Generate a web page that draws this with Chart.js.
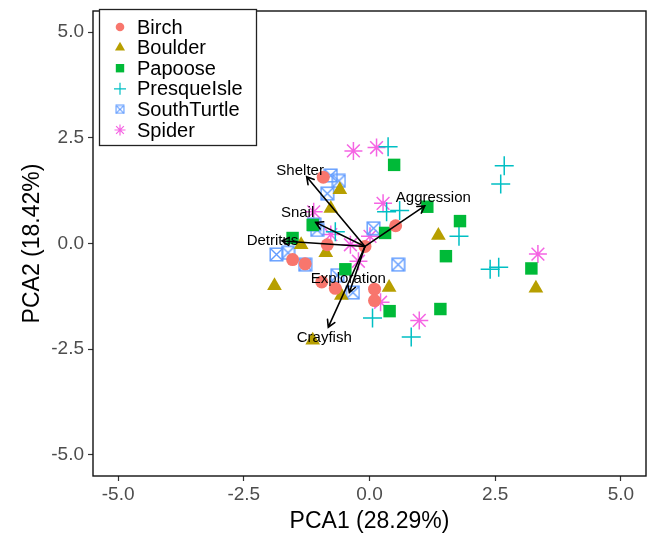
<!DOCTYPE html>
<html><head><meta charset="utf-8">
<script src="https://cdn.jsdelivr.net/npm/chart.js@4/dist/chart.umd.min.js"></script>
<style>html,body{margin:0;padding:0;background:#fff;}#wrap{width:657px;height:537px;}</style>
</head><body><div id="wrap"><canvas id="c" width="657" height="537"></canvas></div>
<script>
const FAMILY = '"Liberation Sans", Arial, Helvetica, sans-serif';

// ---- data ----
const categories = ['Birch','Boulder','Papoose','PresqueIsle','SouthTurtle','Spider'];
const birchX = [-0.92, 0.52, -0.84, -0.09, -1.53, -1.28, -0.95, -0.68, 0.10, 0.10];
const birchY = [1.57, 0.42, -0.03, -0.07, -0.38, -0.48, -0.91, -1.06, -1.08, -1.35];
const boulderX = [-0.59, -0.77, -1.36, -0.87, -1.89, -0.56, 0.39, 1.37, 3.31, -1.13];
const boulderY = [1.27, 0.83, -0.03, -0.22, -1.00, -1.23, -1.04, 0.19, -1.06, -2.29];
const papooseX = [0.49, -1.13, 0.31, -1.53, -0.48, 0.40, 1.15, 1.80, 1.52, 3.22, 1.41];
const papooseY = [1.86, 0.44, 0.25, 0.13, -0.61, -1.60, 0.87, 0.53, -0.30, -0.59, -1.55];
const presqueX = [0.37, 2.68, 2.61, 0.34, 0.60, -0.68, 1.78, 2.40, 2.57, 0.06, 0.83];
const presqueY = [2.29, 1.84, 1.41, 0.75, 0.78, 0.28, 0.17, -0.61, -0.56, -1.76, -2.21];
const southX = [-0.77, -0.61, -0.84, -1.10, -1.04, 0.08, -1.85, -1.62, -1.28, 0.57, -0.64, -0.33];
const southY = [1.61, 1.48, 1.18, 0.45, 0.32, 0.36, -0.26, -0.22, -0.50, -0.50, -0.75, -1.16];
const spiderX = [-0.32, 0.14, 0.27, -1.11, -0.77, -0.38, 0.01, -0.22, 0.22, 0.99, 3.35];
const spiderY = [2.19, 2.27, 0.95, 0.75, 0.21, -0.03, 0.17, -0.42, -1.39, -1.82, -0.25];

// loadings (arrows)
const loadingNames = ['Shelter','Snail','Detritus','Aggression','Exploration','Crayfish'];
const arrowOrigin = [-0.09, -0.07];
const loadingX = [-1.25, -1.07, -1.74, 1.10, -0.40, -0.82];
const loadingY = [1.58, 0.50, 0.06, 0.89, -1.16, -1.98];
const labelX = [-1.38, -1.43, -1.93, 1.27, -0.42, -0.90];
const labelY = [1.72, 0.73, 0.06, 1.09, -0.83, -2.23];

const xTicks = [-5, -2.5, 0, 2.5, 5];
const yTicks = [-5, -2.5, 0, 2.5, 5];

// ---- styles ----
const colors = ['#F8766D','#B79F00','#00BA38','#00BFC4','#619CFF','#F564E3'];

function boxX(size, color, lw) {
  const c = document.createElement('canvas');
  c.width = size; c.height = size;
  const g = c.getContext('2d');
  g.strokeStyle = color; g.lineWidth = lw;
  const o = lw / 2 + 0.5, e = size - lw / 2 - 0.5;
  g.strokeRect(o, o, e - o, e - o);
  g.beginPath(); g.moveTo(o, o); g.lineTo(e, e); g.moveTo(e, o); g.lineTo(o, e); g.stroke();
  return c;
}
const stImg = boxX(15, colors[4], 1.4);
const stImgSmall = boxX(10, colors[4], 1.1);

const xs = [birchX, boulderX, papooseX, presqueX, southX, spiderX];
const ys = [birchY, boulderY, papooseY, presqueY, southY, spiderY];
const styles = ['circle','triangle','rect','cross',stImg,'star'];
const radii = [6.5, 8.5, 8.8, 9.5, 7.5, 9];

const datasets = categories.map((name, i) => ({
  label: name,
  data: xs[i].map((x, j) => ({x: x, y: ys[i][j]})),
  pointStyle: styles[i],
  pointRadius: radii[i],
  pointHoverRadius: radii[i],
  backgroundColor: colors[i],
  borderColor: colors[i],
  borderWidth: (i === 3 || i === 5) ? 1.5 : 0,
  pointBorderWidth: (i === 3 || i === 5) ? 1.5 : 0
}));

// ---- plugins ----
const frame = {
  id: 'frame',
  afterDraw(chart) {
    const {ctx, chartArea: a} = chart;
    ctx.save();
    ctx.strokeStyle = '#111'; ctx.lineWidth = 1.4;
    ctx.strokeRect(a.left, a.top, a.right - a.left, a.bottom - a.top);
    ctx.restore();
  }
};

const arrows = {
  id: 'arrows',
  afterDatasetsDraw(chart) {
    const ctx = chart.ctx, sx = chart.scales.x, sy = chart.scales.y;
    const ox = sx.getPixelForValue(arrowOrigin[0]), oy = sy.getPixelForValue(arrowOrigin[1]);
    ctx.save();
    ctx.strokeStyle = '#000'; ctx.lineWidth = 1.6; ctx.lineCap = 'round';
    loadingNames.forEach((n, i) => {
      const ex = sx.getPixelForValue(loadingX[i]), ey = sy.getPixelForValue(loadingY[i]);
      const ang = Math.atan2(ey - oy, ex - ox);
      const L = 8, A = Math.PI / 6;
      ctx.beginPath();
      ctx.moveTo(ox, oy); ctx.lineTo(ex, ey);
      ctx.moveTo(ex - L * Math.cos(ang - A), ey - L * Math.sin(ang - A));
      ctx.lineTo(ex, ey);
      ctx.lineTo(ex - L * Math.cos(ang + A), ey - L * Math.sin(ang + A));
      ctx.stroke();
    });
    ctx.fillStyle = '#000';
    ctx.font = '15px ' + FAMILY;
    ctx.textAlign = 'center'; ctx.textBaseline = 'middle';
    loadingNames.forEach((n, i) => {
      ctx.fillText(n, sx.getPixelForValue(labelX[i]), sy.getPixelForValue(labelY[i]));
    });
    ctx.restore();
  }
};

function drawSym(ctx, i, x, y) {
  const c = colors[i];
  ctx.save();
  ctx.fillStyle = c; ctx.strokeStyle = c; ctx.lineWidth = 1.2;
  ctx.beginPath();
  if (i === 0) { ctx.arc(x, y, 4.3, 0, Math.PI * 2); ctx.fill(); }
  else if (i === 1) { const r = 5.8; ctx.moveTo(x, y - r); ctx.lineTo(x + r * 0.866, y + r / 2); ctx.lineTo(x - r * 0.866, y + r / 2); ctx.closePath(); ctx.fill(); }
  else if (i === 2) { ctx.rect(x - 4.2, y - 4.2, 8.4, 8.4); ctx.fill(); }
  else if (i === 3) { const r = 6; ctx.moveTo(x - r, y); ctx.lineTo(x + r, y); ctx.moveTo(x, y - r); ctx.lineTo(x, y + r); ctx.stroke(); }
  else if (i === 4) { ctx.drawImage(stImgSmall, x - 5, y - 5); }
  else { const r = 5.5, d = r * 0.7071; ctx.moveTo(x - r, y); ctx.lineTo(x + r, y); ctx.moveTo(x, y - r); ctx.lineTo(x, y + r);
         ctx.moveTo(x - d, y - d); ctx.lineTo(x + d, y + d); ctx.moveTo(x + d, y - d); ctx.lineTo(x - d, y + d); ctx.stroke(); }
  ctx.restore();
}

const legendBox = {
  id: 'legendBox',
  afterDraw(chart) {
    const ctx = chart.ctx;
    ctx.save();
    ctx.fillStyle = '#fff';
    ctx.fillRect(99.5, 9.5, 157, 136);
    ctx.strokeStyle = '#222'; ctx.lineWidth = 1.3;
    ctx.strokeRect(99.5, 9.5, 157, 136);
    ctx.font = '20px ' + FAMILY;
    ctx.textAlign = 'left'; ctx.textBaseline = 'middle';
    categories.forEach((n, i) => {
      const y = 27 + i * 20.6;
      drawSym(ctx, i, 120, y);
      ctx.fillStyle = '#000';
      ctx.fillText(n, 137, y + 1);
    });
    ctx.restore();
  }
};

function zeroPad(s) { s.paddingTop = 0; s.paddingBottom = 0; s.paddingLeft = 0; s.paddingRight = 0; }

new Chart(document.getElementById('c'), {
  type: 'scatter',
  data: { datasets },
  options: {
    responsive: false,
    animation: false,
    devicePixelRatio: 1,
    layout: { padding: { left: 0, right: 4, top: 5, bottom: 0 } },
    plugins: { legend: { display: false }, tooltip: { enabled: false } },
    scales: {
      x: {
        type: 'linear', min: -5.5, max: 5.5,
        afterBuildTicks: s => { s.ticks = xTicks.map(v => ({ value: v })); },
        afterFit: s => { s.height = 61; zeroPad(s); },
        ticks: { callback: v => Number(v).toFixed(1), color: '#4D4D4D', font: { size: 19, family: FAMILY }, padding: 2, maxRotation: 0, autoSkip: false },
        grid: { display: true, drawOnChartArea: false, tickLength: 5, tickColor: '#333', tickWidth: 1.2 },
        border: { display: false },
        title: { display: true, text: 'PCA1 (28.29%)', color: '#000', font: { size: 23, family: FAMILY }, padding: { top: 0, bottom: 2 } }
      },
      y: {
        type: 'linear', min: -5.5, max: 5.5,
        afterBuildTicks: s => { s.ticks = yTicks.map(v => ({ value: v })); },
        afterFit: s => { s.width = 93; zeroPad(s); },
        ticks: { callback: v => Number(v).toFixed(1), color: '#4D4D4D', font: { size: 19, family: FAMILY }, padding: 4, autoSkip: false },
        grid: { display: true, drawOnChartArea: false, tickLength: 5, tickColor: '#333', tickWidth: 1.2 },
        border: { display: false },
        title: { display: true, text: 'PCA2 (18.42%)', color: '#000', font: { size: 23, family: FAMILY }, padding: { top: 19, bottom: 0 } }
      }
    }
  },
  plugins: [arrows, frame, legendBox]
});
</script></body></html>
